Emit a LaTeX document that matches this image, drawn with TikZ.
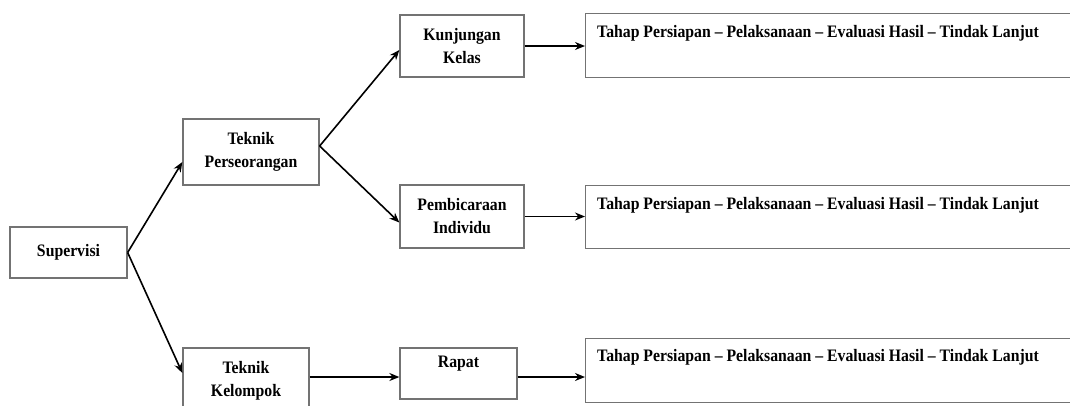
\documentclass[tikz,border=0pt]{standalone}
\usepackage{fontspec}
\setmainfont{Liberation Serif}[FakeStretch=0.9]
\usetikzlibrary{arrows.meta}
\definecolor{boxgray}{RGB}{115,115,115}
\newcommand\labfont{\bfseries\fontsize{17.5}{23}\selectfont}
\begin{document}
\begin{tikzpicture}[x=1pt,y=-1pt,
  box/.style={draw=boxgray, line width=1.3pt, fill=white, inner sep=0pt, align=center, font=\labfont},
  txt/.style={font=\labfont, inner sep=0pt},
  arr/.style={-{Stealth[length=10pt,width=8pt]}, line width=1.6pt, black}]
\useasboundingbox (0,0) rectangle (1070,405);
\clip (0,0) rectangle (1070,405);
\fill[white] (0,0) rectangle (1070,405);

\node[box, minimum width=117pt, minimum height=51pt] (sup) at (68.5,252.5) {Supervisi};
\node[box, minimum width=136pt, minimum height=66pt] (tp) at (251,152) {Teknik\\Perseorangan};
\node[box, minimum width=124pt, minimum height=62pt] (kk) at (462,46) {Kunjungan\\Kelas};
\node[box, minimum width=124pt, minimum height=63pt] (pi) at (462,216.5) {Pembicaraan\\Individu};
\node[box, minimum width=126pt, minimum height=66pt] (tk) at (246,381) {Teknik\\Kelompok};
\node[box, minimum width=117pt, minimum height=51pt] (rp) at (458.5,373.5) {};
\node[txt] (rptxt) at (458.5,364) {Rapat};

\node[box, anchor=north west, minimum width=500pt, minimum height=64pt] (b1) at (585,13) {};
\node[box, anchor=north west, minimum width=500pt, minimum height=63pt] (b2) at (585,185) {};
\node[box, anchor=north west, minimum width=500pt, minimum height=64pt] (b3) at (585,338) {};
\node[txt, anchor=base west] (t1) at (597,37) {Tahap Persiapan – Pelaksanaan – Evaluasi Hasil – Tindak Lanjut};
\node[txt, anchor=base west] (t2) at (597,209) {Tahap Persiapan – Pelaksanaan – Evaluasi Hasil – Tindak Lanjut};
\node[txt, anchor=base west] (t3) at (597,361) {Tahap Persiapan – Pelaksanaan – Evaluasi Hasil – Tindak Lanjut};

\draw[arr] (sup.east) -- ([yshift=-10pt]tp.west);
\draw[arr] (sup.east) -- ([yshift=8pt]tk.west);
\draw[arr] ([yshift=6pt]tp.east) -- ([yshift=-4pt]kk.west);
\draw[arr] ([yshift=6pt]tp.east) -- ([yshift=-6pt]pi.west);
\draw[arr, line width=2.2pt] (kk.east) -- (kk.east -| b1.west);
\draw[arr] (pi.east) -- (pi.east -| b2.west);
\draw[arr] ([yshift=4pt]tk.east) -- ([yshift=4pt]tk.east -| rp.west);
\draw[arr] ([yshift=-3.5pt]rp.east) -- ([yshift=-3.5pt]rp.east -| b3.west);
\end{tikzpicture}
\end{document}
